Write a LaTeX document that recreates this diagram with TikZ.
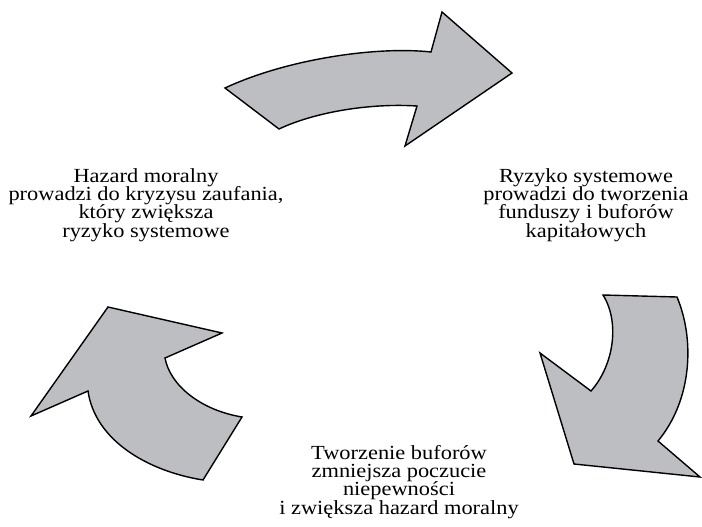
\documentclass[tikz,border=0pt]{standalone}
\usepackage{fontspec}
\setmainfont[FakeStretch=1.12]{Liberation Serif}
\definecolor{arrowgray}{RGB}{189,190,194}
\newcommand\capfont{\fontsize{20}{18.4}\selectfont\lineskiplimit=-100pt\relax}
\tikzset{
  bigarrow/.style={fill=arrowgray, draw=black, line width=1.4pt, line join=miter},
  caption/.style={align=center, inner sep=0pt, anchor=north, font=\capfont}
}
\begin{document}
\begin{tikzpicture}[x=1pt, y=-1pt]
\useasboundingbox (0,0) rectangle (702,527);

% upper arrow, pointing right
\path[bigarrow] (225,88) .. controls (287,59) and (377,46) .. (431,52)
  -- (442,12) -- (512,73) -- (405,146) -- (417,106)
  .. controls (370,103) and (315,112) .. (279,129) -- cycle;

% right arrow, pointing down
\path[bigarrow] (603,295) -- (677,297)
  .. controls (695,340) and (692,400) .. (658,441)
  -- (700,477) -- (574,464) -- (540,353) -- (591,391)
  .. controls (614,365) and (620,322) .. (603,295) -- cycle;

% left arrow, pointing up
\path[bigarrow] (108,307) -- (222,333) -- (165,358)
  .. controls (170,385) and (200,410) .. (242,417)
  -- (203,480) .. controls (147,471) and (95,440) .. (88,391)
  -- (31,416) -- cycle;

\node[caption] (left) at (146,168) {Hazard moralny\\prowadzi do kryzysu zaufania,\\który zwiększa\\ryzyko systemowe};
\node[caption] (right) at (586,168) {Ryzyko systemowe\\prowadzi do tworzenia\\funduszy i buforów\\kapitałowych};
\node[caption] (bottom) at (399,444.8) {Tworzenie buforów\\zmniejsza poczucie\\niepewności\\i zwiększa hazard moralny};
\end{tikzpicture}
\end{document}
